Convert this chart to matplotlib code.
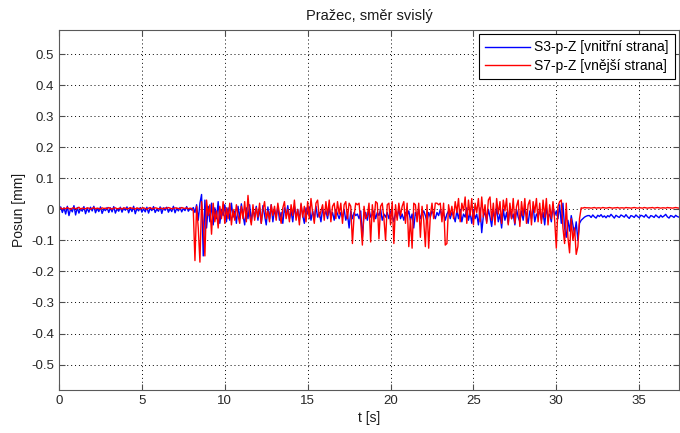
import numpy as np
import matplotlib
matplotlib.use('Agg')
import matplotlib.pyplot as plt

plt.rcParams['font.family'] = ['Liberation Sans', 'DejaVu Sans']

dt = 0.1  # sampling step [s]

# S3-p-Z, values in micrometres
s3_idle = [-2, 8, -10, 5, -15, 10, -20, 3, -8, 12, -18, 6, -12, 2, -6, 9, -14, 4, -9, 7,
           -5, 10, -11, 3, -7, 8, -13, 1, -4, 6, -10, 5, -8, 9, -12, 2, -6, 7, -9, 4,
           -3, 8, -11, 5, -7, 10, -14, 3, -5, 6, -9, 2, -8, 7, -12, 4, -4, 9, -10, 1,
           -6, 8, -13, 5, -3, 7, -9, 2, -7, 10, -11, 4, -5, 6, -8, 3, -4, 9, -6, 2]
s3_pass = [-2, 6, -10, 15, -35, 20, 48, -150, 30, -60,      # 8 s
           10, -40, 20, -50, 5, -30, 25, -45, 0, -20,
           15, -40, 5, -35, 20, -25, -5, -45, 10, -30,      # 10 s
           18, -20, -50, 5, -30, 15, -40, 0, -25, 10,
           -35, 5, -45, 12, -20, -50, 8, -30, 15, -40,
           0, -25, 10, -35, -10, -45, 5, -20, 12, -30,
           -5, -40, 10, -25, 0, -35, 15, -20, -45, 5,
           -15, 8, -35, -5, -30, 10, -25, -10, -40, 0,      # 15 s
           -20, -5, -30, 5, -25, -10, -35, 0, -15, -30,
           -10, -25, 0, -35, -15, -60, -5, -30, -10, -20,
           -15, -30, -5, -90, -20, -10, -35, 0, -25, -15,
           -5, -30, -10, -20, 0, -35, -15, -25, -10, -30,
           -5, -20, -40, -10, -25, 0, -30, -15, -35, -10,   # 20 s
           -20, -5, -35, -15, -60, -10, -25, 0, -30, -15,
           -5, -20, -40, -10, -25, -5, -15, -30, -10, -20,
           0, -25, -10, -35, -15, -5, -30, -10, -20, -40,
           -5, -30, 0, -40, -15, -25, 5, -35, -10, -45,
           0, -30, -15, -50, 5, -75, -20, -10, -40, 0,      # 25 s
           -25, -55, -5, -30, 5, -40, -15, -60, 0, -35,
           -10, -45, 5, -30, -15, -50, 0, -25, -40, -5,
           -35, 5, -20, -45, -5, -30, 10, -40, -15, -25,
           0, -35, -10, -50, 5, -25, -15, -40, 10, -20,
           -5, -30, 15, -45, 20, -60, -90, -35, -70, -20,   # 30 s
           -50, -80, -40, -100, -45, -35, -30, -25, -22, -20]
s3_tail = [-20, -26, -18, -24, -28, -19, -23, -17, -25, -21,
           -27, -20, -24, -16, -22, -28, -19, -23, -26, -18,
           -21, -25, -17, -24, -29, -20, -22, -26, -18, -23,
           -27, -19, -21, -25, -17, -24, -28, -20, -22, -26,
           -18, -23, -27, -19, -25, -21, -16, -24, -28, -20,
           -22, -26, -19, -23, -25]

# S7-p-Z, values in micrometres
s7_idle = [3, 5, 1, 4, 2, 6, 3, 0, 4, 5, 2, 3, 7, 1, 4, 3, 2, 5, 4, 1,
           3, 6, 2, 4, 3, 1, 5, 3, 4, 2, 6, 3, 1, 4, 5, 2, 3, 4, 1, 5,
           4, 2, 3, 6, 3, 4, 1, 5, 3, 2, 4, 5, 3, 1, 4, 6, 2, 3, 5, 4,
           2, 3, 4, 1, 5, 3, 6, 4, 2, 3, 5, 4, 3, 2, 6, 4, 3, 5, 2, 4]
s7_pass = [3, -5, -165, 10, -60, -170, 25, -40, -150, 30,   # 8 s
           -20, 15, -80, 20, -40, -5, -60, 10, -30, 25,
           -45, 5, -30, 20, -50, 0, -35, 15, -20, -45,      # 10 s
           10, -30, 25, -40, 45, -20, -50, 15, -35, 5,
           -25, 20, -45, 0, 25, -30, -5, -40, 15, -20,
           10, -35, 20, -15, -45, 5, 25, -30, 0, -40,
           15, -20, 30, -35, 0, -50, 20, -25, 10, -40,
           25, -30, 35, -10, -45, 20, 30, -25, -5, 15,      # 15 s
           -35, 25, -20, 30, -40, 10, 20, -30, 25, -15,
           20, -45, 15, 25, -30, 20, 10, -110, -20, 20,
           15, 20, -40, -115, 10, -30, -20, 20, -105, 15,
           -40, 25, 20, -95, 10, 20, -30, -100, 15, 20,
           -50, 25, -110, 15, -35, 20, -20, 10, 25, -45,    # 20 s
           20, -120, -30, -125, 20, 15, -40, 20, -90, 10,
           -35, -120, 15, -125, -20, 20, -30, 20, 20, 15,
           20, -40, 20, -115, -110, 15, -20, 10, -30, 25,
           -10, 35, -40, 20, -5, 40, -45, 30, -20, 35,
           -50, 20, -10, 35, -40, 40, -25, 15, -45, 30,     # 25 s
           40, -35, 20, -50, 35, -15, 25, -45, 30, -5,
           35, -50, 20, -30, 35, -45, 10, 30, -55, 25,
           -20, 35, -45, 15, 30, -50, 25, -10, 35, -40,
           20, -45, 30, -25, 35, -50, 15, -30, 25, -35,
           -125, 10, 25, 30, -60, -110, 20, -90, -140, -30, # 30 s
           -100, -60, -145, -120, -30, 5, 4, 6, 5, 5]
s7_tail = [5, 4, 5, 6, 4, 5, 5, 4, 6, 5,
           4, 5, 6, 5, 4, 5, 5, 6, 4, 5,
           5, 4, 6, 5, 5, 4, 5, 6, 5, 4,
           5, 5, 4, 6, 5, 4, 5, 5, 6, 4,
           5, 6, 5, 4, 5, 5, 4, 6, 5, 5,
           4, 5, 6, 5, 4]

s3 = np.array(s3_idle + s3_pass + s3_tail) / 1000.0
s7 = np.array(s7_idle + s7_pass + s7_tail) / 1000.0
t3 = np.arange(len(s3)) * dt
t7 = np.arange(len(s7)) * dt

fig = plt.figure(figsize=(6.8, 4.33), dpi=100)
ax = fig.add_axes([0.0868, 0.0993, 0.9117, 0.8314])

ax.plot(t3, s3, color='#0000ff', lw=1.0, label='S3-p-Z [vnitřní strana]')
ax.plot(t7, s7, color='#ff0000', lw=1.0, label='S7-p-Z [vnější strana]')

ax.set_xlim(0, 37.4)
ax.set_ylim(-0.582, 0.578)
ax.set_xticks(np.arange(0, 36, 5))
ax.set_yticks(np.arange(-0.5, 0.51, 0.1))
ax.set_yticklabels(['-0.5', '-0.4', '-0.3', '-0.2', '-0.1', '0',
                    '0.1', '0.2', '0.3', '0.4', '0.5'])
ax.grid(True, color='black', linestyle=(0, (1, 3)), linewidth=0.7)
ax.tick_params(direction='in', top=True, right=True, labelsize=9.5,
               length=4, color='0.3', labelcolor='0.15')
for sp in ax.spines.values():
    sp.set_color('0.35')

ax.set_title('Pražec, směr svislý', fontsize=10.5, pad=7, color='0.1')
ax.set_xlabel('t [s]', fontsize=10, labelpad=3, color='0.1')
ax.set_ylabel('Posun [mm]', fontsize=10, labelpad=4, color='0.1')

leg = ax.legend(loc='upper right', fontsize=10, fancybox=False,
                edgecolor='black', framealpha=1, handlelength=3.2,
                handletextpad=0.3, borderaxespad=0.3, labelspacing=0.3,
                borderpad=0.45)
leg.get_frame().set_linewidth(0.8)

fig.savefig('out.png', dpi=100)
